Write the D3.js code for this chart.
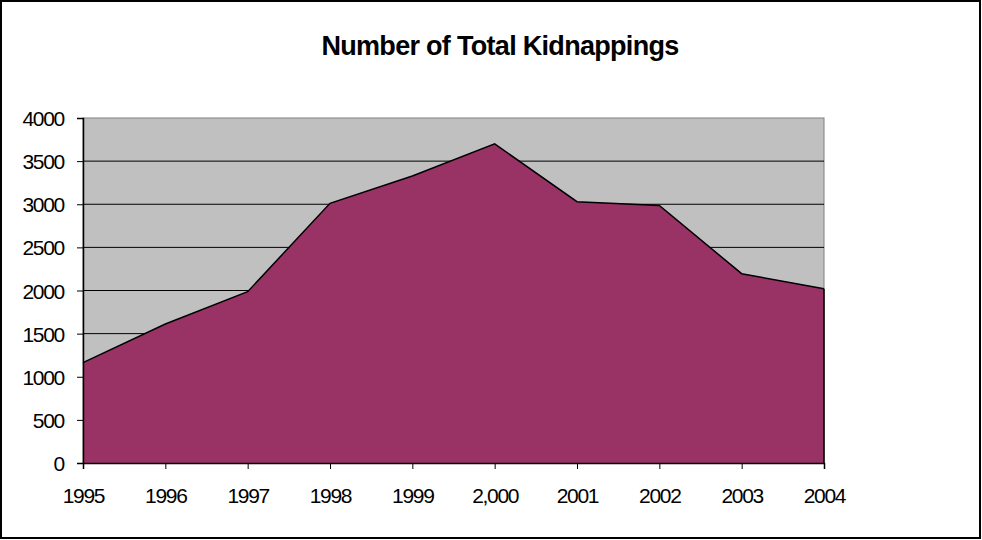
<!DOCTYPE html>
<html><head><meta charset="utf-8">
<script src="https://cdn.jsdelivr.net/npm/d3@7"></script>
<style>body{margin:0;background:#fff}svg{display:block}</style>
</head><body>
<script>
const years = ["1995","1996","1997","1998","1999","2,000","2001","2002","2003","2004"];
const kidnappings = [1163, 1612, 1986, 3011, 3328, 3700, 3030, 2985, 2195, 2021];
const yTicks = [0,500,1000,1500,2000,2500,3000,3500,4000];
const title = "Number of Total Kidnappings";

const W=982,H=540;
const svg=d3.select("body").append("svg").attr("width",W).attr("height",H);
svg.append("rect").attr("x",1).attr("y",1).attr("width",W-3).attr("height",H-3)
  .attr("fill","#fff").attr("stroke","#000").attr("stroke-width",2);

const L=83,R=824,T=118,B=463;
const x=d3.scalePoint().domain(years).range([L,R]);
const y=d3.scaleLinear().domain([0,4000]).range([B,T]);

svg.append("rect").attr("x",L).attr("y",T).attr("width",R-L).attr("height",B-T)
  .attr("fill","#c0c0c0").attr("stroke","#808080").attr("stroke-width",1);

svg.append("g").selectAll("line").data(yTicks.filter(d=>d>0&&d<4000)).join("line")
  .attr("x1",L).attr("x2",R).attr("y1",d=>y(d)).attr("y2",d=>y(d))
  .attr("stroke","#000").attr("stroke-width",1);

const data=years.map((k,i)=>({k,v:kidnappings[i]}));
svg.append("path").datum(data)
  .attr("d",d3.area().x(d=>x(d.k)).y0(B).y1(d=>y(d.v)))
  .attr("fill","#993366").attr("stroke","none");
svg.append("path").datum(data)
  .attr("d",d3.line().x(d=>x(d.k)).y(d=>y(d.v)))
  .attr("fill","none").attr("stroke","#000").attr("stroke-width",1.5);
svg.append("line").attr("x1",R).attr("x2",R).attr("y1",y(kidnappings[kidnappings.length-1])).attr("y2",B)
  .attr("stroke","#000").attr("stroke-width",1.5);

const yAxis=svg.append("g").attr("transform",`translate(${L},0)`)
  .call(d3.axisLeft(y).tickValues(yTicks).tickSize(6).tickPadding(13).tickFormat(d3.format("d")));
const xAxis=svg.append("g").attr("transform",`translate(0,${B})`)
  .call(d3.axisBottom(x).tickSize(6).tickPadding(19));
[yAxis,xAxis].forEach(g=>{
  g.select(".domain").attr("stroke","#000").attr("stroke-width",1.5);
  g.selectAll(".tick line").attr("stroke","#000");
  g.selectAll("text").attr("fill","#000").style("font-family","'Liberation Sans',Arial,sans-serif")
   .style("font-size","21px").style("letter-spacing","-1.3px");
});
yAxis.selectAll("text").attr("dy","0.36em");

svg.append("text").attr("x",500).attr("y",55).attr("text-anchor","middle")
  .style("font-family","'Liberation Sans',Arial,sans-serif").style("font-weight","bold")
  .style("font-size","27px").style("letter-spacing","-0.7px").text(title);
</script>
</body></html>
